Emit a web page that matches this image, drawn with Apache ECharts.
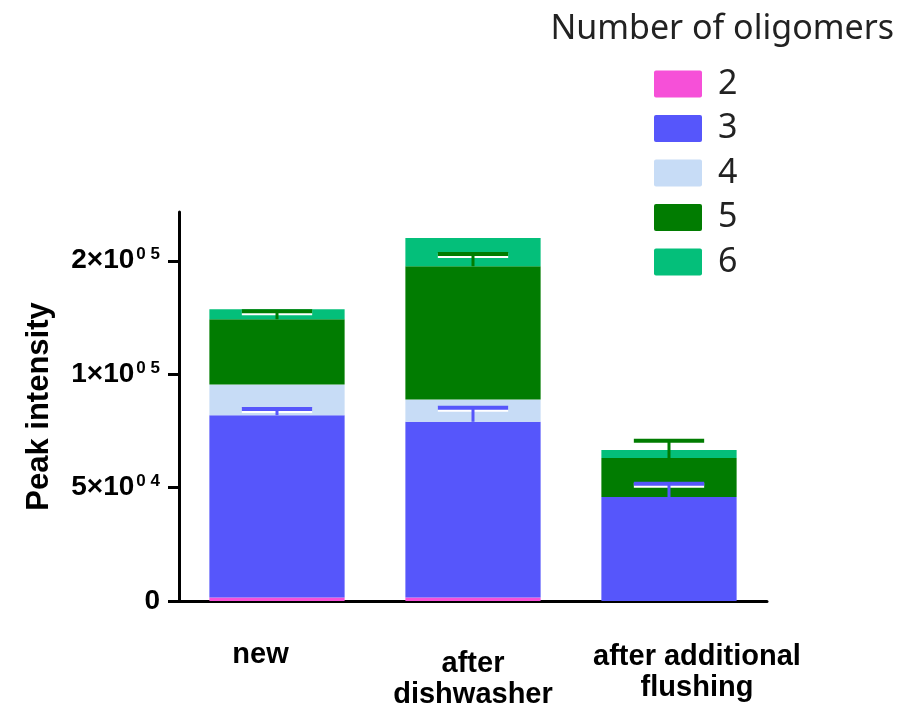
<!DOCTYPE html>
<html><head><meta charset="utf-8">
<script src="https://cdn.jsdelivr.net/npm/echarts@6/dist/echarts.min.js"></script>
<style>html,body{margin:0;padding:0;background:#fff}#c{width:919px;height:710px}</style>
</head><body><div id="c"></div>
<script>
const categories = ['new', 'after\ndishwasher', 'after additional\nflushing'];
const seriesNames = ['2', '3', '4', '5', '6'];
const s2 = [1500, 1500, 0];
const s3 = [80400, 77500, 45800];
const s4 = [13500, 9800, 0];
const s5 = [28800, 58800, 17200];
const s6 = [4400, 12400, 3600];
const err3 = [2700, 6200, 5900];
const err5 = [3500, 5400, 7600];
const yTicks = [0, 50000, 100000, 150000];
const yTickMain = ['0', '5×10', '1×10', '2×10'];
const yTickSup = ['', '0 4', '0 5', '0 5'];
const colors = ['#f650d8', '#5656fb', '#c7dcf6', '#017c01', '#04bf7a'];

const values = [s2, s3, s4, s5, s6];
const FONT = "'Liberation Sans', Arial, sans-serif";
const LFONT = "'Noto Sans', 'Open Sans', sans-serif";

function cumTop(upTo) {
  return categories.map((_, i) => {
    let t = 0;
    for (let k = 0; k <= upTo; k++) t += values[k][i];
    return t;
  });
}
const top3 = cumTop(1);
const top5 = cumTop(3);

function errSeries(tops, errs, color) {
  return {
    type: 'custom',
    z: 10,
    silent: true,
    data: categories.map((_, i) => [i, tops[i], tops[i] + errs[i]]),
    renderItem: function (params, api) {
      const p0 = api.coord([api.value(0), api.value(1)]);
      const p1 = api.coord([api.value(0), api.value(2)]);
      const bw = api.size([1, 0])[0] * 0.69;
      const hw = bw * 0.26;
      return {
        type: 'group',
        children: [
          { type: 'line', shape: { x1: p1[0] - hw, y1: p1[1] + 1.5, x2: p1[0] + hw, y2: p1[1] + 1.5 },
            style: { stroke: '#fff', lineWidth: 5 } },
          { type: 'line', shape: { x1: p0[0], y1: p0[1], x2: p1[0], y2: p1[1] },
            style: { stroke: color, lineWidth: 3 } },
          { type: 'line', shape: { x1: p1[0] - hw, y1: p1[1], x2: p1[0] + hw, y2: p1[1] },
            style: { stroke: color, lineWidth: 4 } }
        ]
      };
    }
  };
}

const chart = echarts.init(document.getElementById('c'));
const barSeries = seriesNames.map((n, k) => ({
  name: n,
  type: 'bar',
  stack: 'total',
  barWidth: '69%',
  itemStyle: { color: colors[k] },
  data: values[k]
}));

const swatch = 'path://M2,0 H46 A2,2 0 0 1 48,2 V25 A2,2 0 0 1 46,27 H2 A2,2 0 0 1 0,25 V2 A2,2 0 0 1 2,0 Z';

chart.setOption({
  animation: false,
  title: {
    text: 'Number of oligomers',
    right: 20,
    top: 7,
    textStyle: { fontFamily: LFONT, fontWeight: 'normal', fontSize: 34, color: '#222' }
  },
  legend: {
    orient: 'vertical',
    left: 649,
    top: 62,
    itemWidth: 48,
    itemHeight: 27,
    itemGap: 10.5,
    icon: swatch,
    data: seriesNames,
    textStyle: { fontFamily: LFONT, fontSize: 34, color: '#222', padding: [0, 0, 0, 11] }
  },
  grid: { left: 179, right: 152, top: 212, bottom: 94, containLabel: false },
  xAxis: {
    type: 'category',
    data: categories.map((c, i) => ({
      value: c,
      textStyle: { padding: [[0, 33, 0, 0], [9, 0, 0, 0], [2, 0, 0, 56]][i] }
    })),
    axisLine: { lineStyle: { color: '#000', width: 3 } },
    axisTick: { alignWithLabel: true, length: 9, lineStyle: { color: '#000', width: 3 } },
    axisLabel: {
      margin: 38, fontFamily: FONT, fontWeight: 'bold', fontSize: 29, color: '#000',
      lineHeight: 31, verticalAlign: 'top', interval: 0
    }
  },
  yAxis: {
    type: 'value',
    min: 0,
    max: 171500,
    name: 'Peak intensity',
    nameLocation: 'middle',
    nameGap: 124,
    nameTextStyle: { fontFamily: FONT, fontWeight: 'bold', fontSize: 31, color: '#000' },
    splitLine: { show: false },
    axisLine: { show: true, lineStyle: { color: '#000', width: 3 } },
    axisTick: { show: true, length: 11, customValues: yTicks, lineStyle: { color: '#000', width: 3 } },
    axisLabel: {
      customValues: yTicks,
      margin: 19,
      formatter: function (v) {
        const i = yTicks.indexOf(v);
        if (i < 0) return '';
        return yTickSup[i] ? '{m|' + yTickMain[i] + '}{s|' + yTickSup[i] + '}' : '{m|' + yTickMain[i] + '}';
      },
      rich: {
        m: { fontFamily: FONT, fontWeight: 'bold', fontSize: 28, color: '#000' },
        s: { fontFamily: FONT, fontWeight: 'bold', fontSize: 17, color: '#000', padding: [0, 0, 12, 2] }
      }
    }
  },
  series: barSeries.concat([errSeries(top3, err3, colors[1]), errSeries(top5, err5, colors[3])])
});
</script></body></html>
